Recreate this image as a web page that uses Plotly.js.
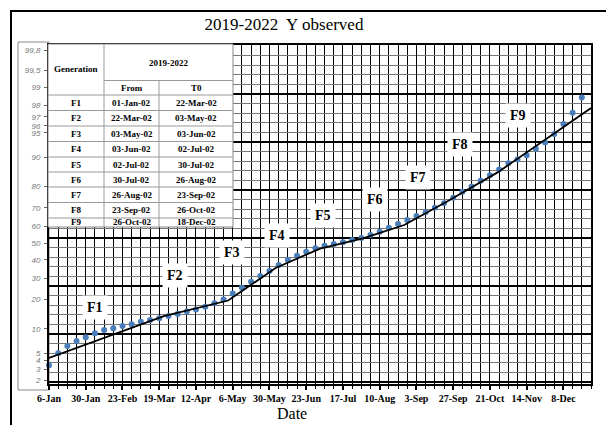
<!DOCTYPE html>
<html><head><meta charset="utf-8">
<script src="https://cdn.plot.ly/plotly-3.0.1.min.js"></script>
<style>html,body{margin:0;padding:0;background:#fff;}#chart{width:606px;height:425px;}</style>
</head><body><div id="chart"></div>
<script>
// ---- data ----
const dates = ['2002-01-06','2002-01-12','2002-01-18','2002-01-24','2002-01-30','2002-02-05','2002-02-11','2002-02-17','2002-02-23','2002-03-01',
 '2002-03-07','2002-03-13','2002-03-19','2002-03-25','2002-03-31','2002-04-06','2002-04-12','2002-04-18','2002-04-24','2002-04-30',
 '2002-05-06','2002-05-12','2002-05-18','2002-05-24','2002-05-30','2002-06-05','2002-06-11','2002-06-17','2002-06-23','2002-06-29',
 '2002-07-05','2002-07-11','2002-07-17','2002-07-23','2002-07-29','2002-08-04','2002-08-10','2002-08-16','2002-08-22','2002-08-28',
 '2002-09-03','2002-09-09','2002-09-15','2002-09-21','2002-09-27','2002-10-03','2002-10-09','2002-10-15','2002-10-21','2002-10-27',
 '2002-11-02','2002-11-08','2002-11-14','2002-11-20','2002-11-26','2002-12-02','2002-12-08','2002-12-14','2002-12-20'];
const observedPct = [3.4,5.0,6.2,7.2,8.0,8.9,9.7,10.2,10.8,11.3,
 12.0,12.5,13.1,13.8,14.5,15.3,16.1,17.1,18.4,20.0,
 22.6,25.2,28.2,31.1,33.8,37.1,40.0,42.5,44.8,46.9,
 48.4,49.4,50.4,51.8,53.0,54.7,56.7,59.0,61.2,63.4,
 65.7,67.7,70.1,72.3,75.0,77.8,80.0,82.4,84.4,86.4,
 88.3,89.4,90.5,92.0,93.3,94.8,96.2,97.4,98.5];
const fitDates = ['2002-01-06','2002-03-22','2002-05-03','2002-06-03','2002-07-02','2002-07-30','2002-08-26','2002-09-23','2002-10-26','2002-12-26'];
const fitPct = [4.31,13.79,19.54,35.45,46.7,52.7,60.6,73.2,85.4,97.8];
const yTickPct = [2,3,4,5,10,20,30,40,50,60,70,80,90,95,96,97,98,99,99.5,99.8];
const generations = ['F1','F2','F3','F4','F5','F6','F7','F8','F9'];
const genFrom = ['01-Jan-02','22-Mar-02','03-May-02','03-Jun-02','02-Jul-02','30-Jul-02','26-Aug-02','23-Sep-02','26-Oct-02'];
const genTo = ['22-Mar-02','03-May-02','03-Jun-02','02-Jul-02','30-Jul-02','26-Aug-02','23-Sep-02','26-Oct-02','18-Dec-02'];
const tableYears = '2019-2022';

// ---- probit scale ----
function probit(p){
 const a=[-3.969683028665376e+01,2.209460984245205e+02,-2.759285104469687e+02,1.383577518672690e+02,-3.066479806614716e+01,2.506628277459239e+00];
 const b=[-5.447609879822406e+01,1.615858368580409e+02,-1.556989798598866e+02,6.680131188771972e+01,-1.328068155288572e+01];
 const c=[-7.784894002430293e-03,-3.223964580411365e-01,-2.400758277161838e+00,-2.549732539343734e+00,4.374664141464968e+00,2.938163982698783e+00];
 const d=[7.784695709041462e-03,3.224671290700398e-01,2.445134137142996e+00,3.754408661907416e+00];
 const pl=0.02425, ph=1-pl; let q,r;
 if(p<pl){q=Math.sqrt(-2*Math.log(p));return (((((c[0]*q+c[1])*q+c[2])*q+c[3])*q+c[4])*q+c[5])/((((d[0]*q+d[1])*q+d[2])*q+d[3])*q+1);}
 if(p>ph){q=Math.sqrt(-2*Math.log(1-p));return -(((((c[0]*q+c[1])*q+c[2])*q+c[3])*q+c[4])*q+c[5])/((((d[0]*q+d[1])*q+d[2])*q+d[3])*q+1);}
 q=p-0.5;r=q*q;return (((((a[0]*r+a[1])*r+a[2])*r+a[3])*r+a[4])*r+a[5])*q/(((((b[0]*r+b[1])*r+b[2])*r+b[3])*r+b[4])*r+1);
}
const z = v => probit(v/100);

// ---- layout helpers (pixel -> paper) ----
const L=49, R=591, T=45, B=384;
const px = x => (x-L)/(R-L);
const py = y => (B-y)/(B-T);
const DAY = 86400000;
const serif = 'Liberation Serif, Times New Roman, serif';

const traces = [
 {x: dates, y: observedPct.map(z), type:'scatter', mode:'markers', cliponaxis:false,
  marker:{color:'#4a7ebb', size:6}, hoverinfo:'skip', showlegend:false},
 {x: fitDates, y: fitPct.map(z), type:'scatter', mode:'lines', cliponaxis:true,
  line:{color:'#000', width:1.8}, hoverinfo:'skip', showlegend:false},
 {x: [], y: [], yaxis:'y2', type:'scatter', hoverinfo:'skip', showlegend:false}
];

const yRange = [-2.104, 2.955];
const shapes = [];
const annotations = [];

// outer frame
shapes.push({type:'rect', xref:'paper', yref:'paper', x0:px(11), x1:px(700), y0:py(600), y1:py(11), line:{color:'#000', width:2}, fillcolor:'rgba(0,0,0,0)', layer:'below'});
// y label box
shapes.push({type:'rect', xref:'paper', yref:'paper', x0:px(18), x1:px(49), y0:py(390), y1:py(42), line:{color:'#888', width:1}, fillcolor:'#fff', layer:'below'});

// table
const tL=48, tR=233, tT=44, tB=227, c1=104, c2=159, hMid=80.5;
const rowLines=[95,110.5,126,141.5,157,172,187,202.5,218,233];
const tLine={color:'#999', width:1};
shapes.push({type:'rect', xref:'paper', yref:'paper', x0:px(tL), x1:px(tR), y0:py(tB), y1:py(tT), line:{color:'#888', width:1}, fillcolor:'#fff', layer:'above'});
shapes.push({type:'line', xref:'paper', yref:'paper', x0:px(c1), x1:px(c1), y0:py(tB), y1:py(tT), line:tLine, layer:'above'});
shapes.push({type:'line', xref:'paper', yref:'paper', x0:px(c2), x1:px(c2), y0:py(tB), y1:py(hMid), line:tLine, layer:'above'});
shapes.push({type:'line', xref:'paper', yref:'paper', x0:px(c1), x1:px(tR), y0:py(hMid), y1:py(hMid), line:tLine, layer:'above'});
rowLines.slice(0,9).forEach(y=>{
 shapes.push({type:'line', xref:'paper', yref:'paper', x0:px(tL), x1:px(tR), y0:py(y), y1:py(y), line:tLine, layer:'above'});
});
const tf={family:serif, size:9, color:'#000', weight:'bold'};
const addT=(text,x,y)=>annotations.push({text, x:px(x), y:py(y), xref:'paper', yref:'paper', showarrow:false, xanchor:'center', yanchor:'middle', font:tf});
addT('Generation',(tL+c1)/2,69.5);
addT(tableYears,(c1+tR)/2,62.5);
addT('From',(c1+c2)/2,88);
addT('T0',(c2+tR)/2,88);
generations.forEach((g,i)=>{
 let yc=(rowLines[i]+rowLines[i+1])/2; if(i===8) yc=222;
 addT(g,(tL+c1)/2,yc);
 addT(genFrom[i],(c1+c2)/2,yc);
 addT(genTo[i],(c2+tR)/2,yc);
});

// generation labels
const fPos=[[95,307.7],[175,275],[232.3,252.7],[277,235],[322.7,215],[375,199.3],[418.3,177.3],[460,144],[518.3,115]];
generations.forEach((g,i)=>{
 annotations.push({text:g, x:px(fPos[i][0]), y:py(fPos[i][1]), xref:'paper', yref:'paper', showarrow:false,
  xanchor:'center', yanchor:'middle', bgcolor:'#fff', borderpad:4, font:{family:serif, size:14, color:'#000', weight:'bold'}});
});
// x title
annotations.push({text:'Date', x:px(292), y:py(413), xref:'paper', yref:'paper', showarrow:false, xanchor:'center', yanchor:'middle', font:{family:serif, size:16, color:'#000'}});

const layout = {
 width:606, height:425,
 margin:{l:L, r:606-R, t:T, b:425-B, pad:0},
 paper_bgcolor:'#fff', plot_bgcolor:'#fff',
 title:{text:'2019-2022\u00A0 Y observed', x:px(284), xref:'paper', xanchor:'center', y:1-24/425, yref:'container', yanchor:'middle', font:{family:serif, size:17, color:'#000'}},
 showlegend:false,
 xaxis:{type:'date', range:['2002-01-06','2002-12-26'], tickmode:'linear', tick0:'2002-01-06', dtick:24*DAY, tickformat:'%-d-%b',
  showgrid:true, gridcolor:'#000', gridwidth:1, zeroline:false,
  showline:true, linecolor:'#000', linewidth:2, mirror:true,
  ticks:'outside', ticklen:4, tickwidth:2, tickcolor:'#000',
  minor:{tick0:'2002-01-06', dtick:6*DAY, showgrid:true, gridcolor:'#000', gridwidth:1, ticks:'outside', ticklen:3, tickwidth:1, tickcolor:'#000'},
  tickfont:{family:serif, size:10, color:'#000', weight:'bold'}},
 yaxis:{range:yRange, tickmode:'array', tickvals:yTickPct.map(z), ticktext:yTickPct.map(v=>String(v).replace('.',',')),
  showgrid:false, zeroline:false, showline:true, linecolor:'#000', linewidth:2, mirror:true,
  ticks:'outside', ticklen:3, tickwidth:1, tickcolor:'#666', ticklabelstandoff:2,
  tickfont:{family:'Liberation Sans, Arial, sans-serif', size:8, color:'#777', style:'italic'}},
 yaxis2:{range:yRange, overlaying:'y', side:'left', tickmode:'linear', tick0:0.0746, dtick:0.7164,
  showgrid:true, gridcolor:'#000', gridwidth:2, zeroline:false, showticklabels:false, ticks:'', showline:false,
  minor:{tick0:0.0746, dtick:0.14328, showgrid:true, gridcolor:'#777', gridwidth:1}},
 shapes, annotations
};
Plotly.newPlot('chart', traces, layout, {staticPlot:true, displayModeBar:false});
</script></body></html>
